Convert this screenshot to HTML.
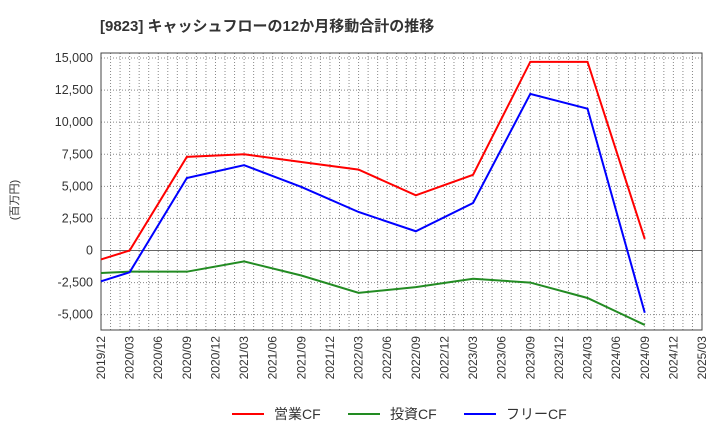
<!DOCTYPE html>
<html><head><meta charset="utf-8"><style>
body{margin:0;background:#fff;font-family:"Liberation Sans","Noto Sans CJK JP",sans-serif}
</style></head><body>
<svg id="c" width="720" height="440" xmlns="http://www.w3.org/2000/svg"></svg>
<script>
const dates=[0,1,3,5,7,9,11,13,15,17,19];
const opCF=[-700,0,7300,7500,6900,6300,4300,5900,14700,14700,900];
const invCF=[-1750,-1650,-1650,-850,-1950,-3300,-2850,-2200,-2500,-3700,-5800];
const freeCF=[-2400,-1700,5650,6650,4950,3000,1500,3700,12200,11050,-4850];
const yTicks=[15000,12500,10000,7500,5000,2500,0,-2500,-5000];
const xLabels=["2019/12","2020/03","2020/06","2020/09","2020/12","2021/03","2021/06","2021/09","2021/12","2022/03","2022/06","2022/09","2022/12","2023/03","2023/06","2023/09","2023/12","2024/03","2024/06","2024/09","2024/12","2025/03"];
const L=101,R=702,T=53,B=330;
const x=i=>L+(R-L)*i/21;
const y=v=>250.5-v*192.5/15000;
const s=document.getElementById('c');const NS="http://www.w3.org/2000/svg";
function mk(t,a,p){const e=document.createElementNS(NS,t);for(const k in a)e.setAttribute(k,a[k]);(p||s).appendChild(e);return e;}
let e=mk('text',{x:100,y:31,'font-size':15,'font-weight':'bold',fill:'#333'});e.textContent="[9823]  キャッシュフローの12か月移動合計の推移";


const g=mk('g',{});


for(let m=1;m<63;m++){const xx=L+(R-L)*m/63;mk('line',{x1:xx,x2:xx,y1:T,y2:B,stroke:'#888','stroke-dasharray':'1,2','stroke-width':1},g);}
yTicks.forEach(v=>{if(v!==0)mk('line',{x1:L,x2:R,y1:y(v),y2:y(v),stroke:'#888','stroke-dasharray':'1,2'},g);
 let t=mk('text',{x:L-8,y:y(v)+4,'font-size':12.5,'text-anchor':'end',fill:'#333'});t.textContent=v.toLocaleString('en-US');
 
 });
mk('line',{x1:L,x2:R,y1:y(0),y2:y(0),stroke:'#666'});
xLabels.forEach((lb,i)=>{let t=mk('text',{transform:`translate(${x(i)+4},${B+6}) rotate(-90)`,'font-size':12,'text-anchor':'end',fill:'#333'});t.textContent=lb;
 
 });
mk('rect',{x:L,y:T,width:R-L,height:B-T,fill:'none',stroke:'#444'});
e=mk('text',{transform:'translate(18,200) rotate(-90)','font-size':11,'text-anchor':'middle',fill:'#333'});e.textContent="(百万円)";


const series=[[opCF,'#ff0000','operating-cf-line'],[invCF,'#228b22','investing-cf-line'],[freeCF,'#0000ff','free-cf-line']];
series.forEach(([d,c,n])=>{let p=mk('polyline',{points:d.map((v,i)=>x(dates[i])+','+y(v)).join(' '),fill:'none',stroke:c,'stroke-width':2});
 
 });
const leg=[['営業CF','#ff0000',232],['投資CF','#228b22',348],['フリーCF','#0000ff',464]];
leg.forEach(([t,c,lx])=>{const gg=mk('g',{});
 
 
 mk('line',{x1:lx,x2:lx+32,y1:414,y2:414,stroke:c,'stroke-width':2},gg);
 let tt=mk('text',{x:lx+42,y:419,'font-size':14,fill:'#333'},gg);tt.textContent=t;});
</script>
</body></html>
